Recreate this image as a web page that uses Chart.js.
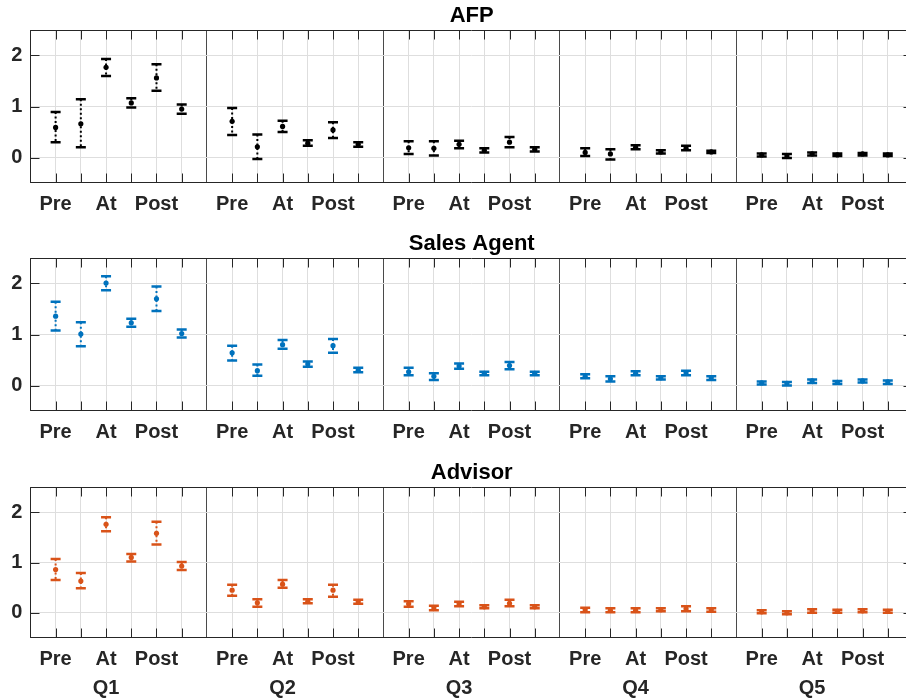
<!DOCTYPE html>
<html>
<head>
<meta charset="utf-8">
<script src="https://cdn.jsdelivr.net/npm/chart.js@4.4.1/dist/chart.umd.min.js"></script>
<style>
  html, body { margin: 0; padding: 0; background: #fff; overflow: hidden; }
  #wrap { position: relative; width: 906px; height: 700px; overflow: hidden; }
  canvas { position: absolute; left: 0; }
</style>
</head>
<body>
<div id="wrap">
  <canvas id="afp" width="920" height="228" style="top:0px"></canvas>
  <canvas id="sales" width="920" height="228" style="top:228px"></canvas>
  <canvas id="advisor" width="920" height="243" style="top:457px"></canvas>
</div>
<script>
const quarters = ['Q1', 'Q2', 'Q3', 'Q4', 'Q5'];
const phaseLabels = ['Pre', '', 'At', '', 'Post', ''];
const yTicks = [0, 1, 2];

// AFP (6 per quarter)
const afpMid  = [0.59, 0.66, 1.77, 1.07, 1.56, 0.95,  0.71, 0.21, 0.61, 0.28, 0.54, 0.26,  0.19, 0.18, 0.26, 0.14, 0.30, 0.16,  0.10, 0.07, 0.20, 0.11, 0.18, 0.11,  0.05, 0.03, 0.07, 0.05, 0.07, 0.05];
const afpLow  = [0.30, 0.20, 1.60, 0.98, 1.31, 0.86,  0.44, -0.03, 0.50, 0.23, 0.38, 0.21,  0.07, 0.04, 0.18, 0.10, 0.20, 0.12,  0.03, -0.04, 0.16, 0.08, 0.14, 0.09,  0.02, -0.01, 0.04, 0.03, 0.04, 0.03];
const afpHigh = [0.89, 1.14, 1.93, 1.16, 1.83, 1.04,  0.97, 0.45, 0.72, 0.34, 0.69, 0.30,  0.32, 0.32, 0.33, 0.18, 0.40, 0.20,  0.18, 0.16, 0.24, 0.14, 0.23, 0.13,  0.08, 0.07, 0.10, 0.08, 0.09, 0.08];

// Sales Agent
const salesMid  = [1.36, 1.01, 2.01, 1.23, 1.70, 1.02,  0.64, 0.29, 0.80, 0.42, 0.78, 0.30,  0.27, 0.18, 0.38, 0.24, 0.39, 0.24,  0.18, 0.13, 0.24, 0.15, 0.25, 0.15,  0.05, 0.04, 0.09, 0.06, 0.09, 0.07];
const salesLow  = [1.08, 0.77, 1.87, 1.15, 1.46, 0.94,  0.49, 0.19, 0.72, 0.37, 0.64, 0.26,  0.20, 0.11, 0.33, 0.20, 0.32, 0.20,  0.14, 0.08, 0.20, 0.12, 0.20, 0.11,  0.02, 0.00, 0.05, 0.03, 0.06, 0.03];
const salesHigh = [1.64, 1.24, 2.14, 1.31, 1.94, 1.10,  0.78, 0.41, 0.89, 0.47, 0.91, 0.35,  0.35, 0.24, 0.43, 0.27, 0.46, 0.27,  0.22, 0.18, 0.28, 0.18, 0.29, 0.18,  0.08, 0.07, 0.12, 0.09, 0.12, 0.10];

// Advisor
const advMid  = [0.86, 0.63, 1.76, 1.10, 1.58, 0.93,  0.45, 0.20, 0.57, 0.23, 0.45, 0.22,  0.18, 0.10, 0.18, 0.12, 0.19, 0.12,  0.06, 0.05, 0.05, 0.06, 0.08, 0.06,  0.02, 0.00, 0.04, 0.03, 0.04, 0.03];
const advLow  = [0.65, 0.49, 1.62, 1.02, 1.36, 0.85,  0.34, 0.12, 0.50, 0.19, 0.32, 0.18,  0.12, 0.05, 0.13, 0.09, 0.13, 0.09,  0.01, 0.01, 0.01, 0.03, 0.03, 0.02,  -0.01, -0.03, 0.00, 0.00, 0.01, 0.00];
const advHigh = [1.07, 0.79, 1.90, 1.17, 1.81, 1.01,  0.56, 0.27, 0.65, 0.27, 0.56, 0.26,  0.23, 0.14, 0.22, 0.15, 0.26, 0.15,  0.10, 0.09, 0.09, 0.09, 0.13, 0.09,  0.05, 0.03, 0.07, 0.06, 0.07, 0.06];

const FONT = 'Liberation Sans, Arial, Helvetica, sans-serif';
const AXIS_COLOR = '#262626';
const GROUP = phaseLabels.length + 1; // 7 slots per quarter

// error whiskers: dotted stem + solid caps
const errorBars = {
  id: 'errorBars',
  beforeDatasetsDraw(chart) {
    const { ctx, scales: { x, y } } = chart;
    chart.data.datasets.forEach(ds => {
      ctx.save();
      ctx.strokeStyle = ds.backgroundColor;
      ds.data.forEach((p, i) => {
        const px = x.getPixelForValue(p.x);
        const top = y.getPixelForValue(ds.errHigh[i]);
        const bot = y.getPixelForValue(ds.errLow[i]);
        ctx.lineWidth = 2;
        ctx.setLineDash([2, 2.5]);
        ctx.beginPath();
        ctx.moveTo(px, top);
        ctx.lineTo(px, bot);
        ctx.stroke();
        ctx.setLineDash([]);
        ctx.lineWidth = 2.5;
        ctx.beginPath();
        ctx.moveTo(px - 5, top); ctx.lineTo(px + 5, top);
        ctx.moveTo(px - 5, bot); ctx.lineTo(px + 5, bot);
        ctx.stroke();
      });
      ctx.restore();
    });
  }
};

// box + inward tick marks, matlab style
const axisFrame = {
  id: 'axisFrame',
  afterDraw(chart) {
    const { ctx, chartArea: a, scales: { x, y } } = chart;
    const L = Math.round(a.left) + 0.5, R = Math.round(a.right) - 0.5;
    const T = Math.round(a.top) + 0.5, B = Math.round(a.bottom) - 0.5;
    ctx.save();
    ctx.strokeStyle = AXIS_COLOR;
    ctx.lineWidth = 1;
    ctx.beginPath();
    ctx.rect(L, T, R - L, B - T);
    x.ticks.forEach(t => {
      if (t.value % GROUP === 0) return;
      const px = Math.round(x.getPixelForValue(t.value)) + 0.5;
      ctx.moveTo(px, B); ctx.lineTo(px, B - 9);
      ctx.moveTo(px, T); ctx.lineTo(px, T + 9);
    });
    y.ticks.forEach(t => {
      const py = Math.round(y.getPixelForValue(t.value)) + 0.5;
      ctx.moveTo(L, py); ctx.lineTo(L + 9, py);
      ctx.moveTo(R, py); ctx.lineTo(R - 9, py);
    });
    ctx.stroke();
    ctx.restore();
  }
};

function makePanel(id, title, mid, low, high, color, axisHeight, showQ) {
  const points = mid.map((v, i) => ({
    x: Math.floor(i / phaseLabels.length) * GROUP + (i % phaseLabels.length) + 1,
    y: v
  }));
  new Chart(document.getElementById(id), {
    type: 'scatter',
    data: {
      datasets: [{
        data: points,
        errLow: low,
        errHigh: high,
        backgroundColor: color,
        borderColor: color,
        pointRadius: 2.6,
        pointBorderWidth: 0,
      }]
    },
    options: {
      responsive: false,
      animation: false,
      events: [],
      layout: { padding: { left: 0, right: 7, top: 0, bottom: 0 } },
      plugins: {
        legend: { display: false },
        tooltip: { enabled: false },
        title: {
          display: true,
          text: title,
          fullSize: false,
          color: '#000',
          font: { family: FONT, size: 22, weight: 'bold', lineHeight: 1.2 },
          padding: { top: 3, bottom: 0.6 },
        },
      },
      scales: {
        x: {
          type: 'linear',
          min: 0,
          max: quarters.length * GROUP,
          afterBuildTicks: s => {
            s.ticks = Array.from({ length: quarters.length * GROUP + 1 }, (_, v) => ({ value: v }));
          },
          afterFit: s => { s.height = axisHeight; },
          border: { display: false },
          grid: {
            drawTicks: false,
            lineWidth: 1,
            color: c => (c.tick && c.tick.value % GROUP === 0) ? '#4a4a4a' : '#dedede',
          },
          ticks: {
            autoSkip: false,
            maxRotation: 0,
            minRotation: 0,
            padding: 7,
            color: AXIS_COLOR,
            font: { family: FONT, size: 20, weight: 'bold', lineHeight: 1.45 },
            callback: v => {
              const k = v % GROUP;
              if (k === 0) return '';
              const lab = phaseLabels[k - 1];
              if (showQ && k === 3) return [lab, quarters[Math.floor(v / GROUP)]];
              return lab;
            },
          },
        },
        y: {
          min: -0.5,
          max: 2.5,
          afterBuildTicks: s => { s.ticks = yTicks.map(v => ({ value: v })); },
          afterFit: s => { s.width = 30.4; },
          border: { display: false },
          grid: { drawTicks: false, color: '#dedede', lineWidth: 1 },
          ticks: {
            padding: 8,
            color: AXIS_COLOR,
            font: { family: FONT, size: 20, weight: 'bold' },
          },
        },
      },
    },
    plugins: [errorBars, axisFrame],
  });
}

makePanel('afp', 'AFP', afpMid, afpLow, afpHigh, '#000000', 45, false);
makePanel('sales', 'Sales Agent', salesMid, salesLow, salesHigh, '#0072BD', 45, false);
makePanel('advisor', 'Advisor', advMid, advLow, advHigh, '#D95319', 62, true);
</script>
</body>
</html>
